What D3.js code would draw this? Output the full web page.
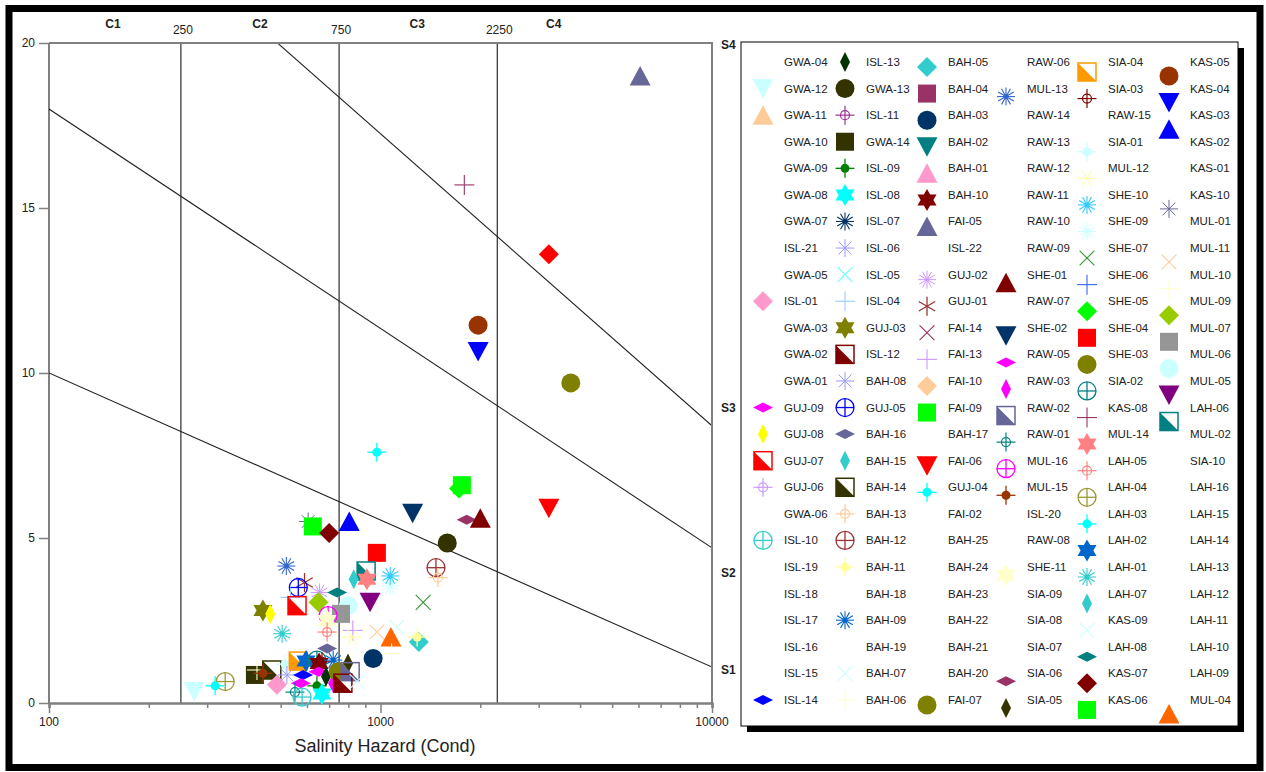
<!DOCTYPE html>
<html>
<head>
<meta charset="utf-8">
<script src="https://cdn.jsdelivr.net/npm/d3@7"></script>
<style>
  body { margin: 0; background: #fff; }
  svg { display: block; font-family: "Liberation Sans", Arial, sans-serif; }
</style>
</head>
<body>
<svg id="chart" width="1266" height="772"></svg>
<script>
// ---------------------------------------------------------------
// Legend entries, column by column (sample identifiers)
// ---------------------------------------------------------------
const legendCol1 = ["GWA-04","GWA-12","GWA-11","GWA-10","GWA-09","GWA-08","GWA-07","ISL-21","GWA-05","ISL-01","GWA-03","GWA-02","GWA-01","GUJ-09","GUJ-08","GUJ-07","GUJ-06","GWA-06","ISL-10","ISL-19","ISL-18","ISL-17","ISL-16","ISL-15","ISL-14"];
const legendCol2 = ["ISL-13","GWA-13","ISL-11","GWA-14","ISL-09","ISL-08","ISL-07","ISL-06","ISL-05","ISL-04","GUJ-03","ISL-12","BAH-08","GUJ-05","BAH-16","BAH-15","BAH-14","BAH-13","BAH-12","BAH-11","BAH-18","BAH-09","BAH-19","BAH-07","BAH-06"];
const legendCol3 = ["BAH-05","BAH-04","BAH-03","BAH-02","BAH-01","BAH-10","FAI-05","ISL-22","GUJ-02","GUJ-01","FAI-14","FAI-13","FAI-10","FAI-09","BAH-17","FAI-06","GUJ-04","FAI-02","BAH-25","BAH-24","BAH-23","BAH-22","BAH-21","BAH-20","FAI-07"];
const legendCol4 = ["RAW-06","MUL-13","RAW-14","RAW-13","RAW-12","RAW-11","RAW-10","RAW-09","SHE-01","RAW-07","SHE-02","RAW-05","RAW-03","RAW-02","RAW-01","MUL-16","MUL-15","ISL-20","RAW-08","SHE-11","SIA-09","SIA-08","SIA-07","SIA-06","SIA-05"];
const legendCol5 = ["SIA-04","SIA-03","RAW-15","SIA-01","MUL-12","SHE-10","SHE-09","SHE-07","SHE-06","SHE-05","SHE-04","SHE-03","SIA-02","KAS-08","MUL-14","LAH-05","LAH-04","LAH-03","LAH-02","LAH-01","LAH-07","KAS-09","LAH-08","KAS-07","KAS-06"];
const legendCol6 = ["KAS-05","KAS-04","KAS-03","KAS-02","KAS-01","KAS-10","MUL-01","MUL-11","MUL-10","MUL-09","MUL-07","MUL-06","MUL-05","LAH-06","MUL-02","SIA-10","LAH-16","LAH-15","LAH-14","LAH-13","LAH-12","LAH-11","LAH-10","LAH-09","MUL-04"];

// ---------------------------------------------------------------
// Samples: [id, electrical conductivity (µS/cm), SAR]
// ---------------------------------------------------------------
const samples = [
  ["FAI-05", 6070, 19.0], ["KAS-08", 1790, 15.7], ["KAS-02", 3220, 13.6],
  ["KAS-05", 1970, 11.45], ["KAS-04", 1970, 10.65], ["SHE-03", 3750, 9.7],
  ["GUJ-04", 975, 7.6], ["SHE-05", 1725, 6.5], ["FAI-09", 1760, 6.6],
  ["FAI-06", 3220, 5.9], ["SIA-06", 1820, 5.55], ["SHE-01", 2000, 5.6],
  ["SHE-02", 1250, 5.75], ["KAS-03", 805, 5.5], ["KAS-10", 605, 5.5],
  ["KAS-06", 625, 5.35], ["KAS-07", 700, 5.15], ["GWA-13", 1590, 4.85],
  ["SHE-04", 975, 4.55], ["MUL-13", 520, 4.15], ["LAH-06", 905, 4.0],
  ["LAH-07", 830, 3.75], ["MUL-14", 910, 3.75], ["SHE-09", 1070, 3.55],
  ["SHE-10", 1070, 3.85], ["BAH-12", 1470, 4.1], ["BAH-13", 1490, 3.8],
  ["SHE-07", 1345, 3.05], ["GUJ-01", 590, 3.65], ["GUJ-02", 655, 3.35],
  ["GUJ-05", 565, 3.5], ["ISL-04", 535, 3.2], ["GUJ-07", 560, 2.95],
  ["LAH-08", 740, 3.35], ["MUL-09", 650, 3.05], ["MUL-06", 800, 2.95],
  ["MUL-07", 760, 2.7], ["MUL-05", 930, 3.05], ["GUJ-03", 442, 2.8],
  ["GUJ-08", 465, 2.7], ["MUL-16", 695, 2.65], ["SHE-11", 690, 2.5],
  ["LAH-05", 690, 2.15], ["LAH-01", 505, 2.1], ["FAI-13", 825, 2.2],
  ["MUL-12", 820, 2.0], ["MUL-11", 975, 2.15], ["KAS-09", 1120, 2.3],
  ["MUL-04", 1075, 2.0], ["MUL-10", 1080, 1.5], ["BAH-05", 1305, 1.85],
  ["BAH-11", 1290, 2.0], ["BAH-03", 950, 1.35], ["GWA-14", 418, 0.85],
  ["BAH-06", 424, 1.0], ["BAH-14", 470, 1.0], ["MUL-15", 442, 0.9],
  ["ISL-01", 487, 0.55], ["LAH-04", 340, 0.65], ["SIA-01", 515, 1.18],
  ["SIA-04", 565, 1.27], ["LAH-02", 596, 1.27], ["ISL-06", 522, 0.85],
  ["ISL-14", 584, 0.85], ["GUJ-09", 575, 0.6], ["RAW-01", 552, 0.33],
  ["ISL-10", 580, 0.18], ["ISL-09", 643, 0.52], ["ISL-08", 666, 0.27],
  ["SIA-02", 643, 1.3], ["BAH-10", 653, 1.2], ["SIA-03", 666, 1.25],
  ["BAH-16", 690, 1.65], ["RAW-05", 650, 0.95], ["ISL-13", 685, 0.8],
  ["RAW-03", 720, 0.6], ["BAH-09", 720, 1.3], ["SIA-05", 798, 1.2],
  ["FAI-07", 745, 0.95], ["RAW-02", 810, 0.95], ["ISL-12", 770, 0.6],
  ["BAH-07", 850, 0.65], ["GWA-12", 274, 0.35], ["LAH-03", 317, 0.52]
];

// Salinity class boundaries (µS/cm) and labels
const classBounds = [250, 750, 2250];
const classBoundLabels = ["250", "750", "2250"];
const classNames = ["C1", "C2", "C3", "C4"];
const classNamePos = [156, 433, 1290, 3330];

// Sodium hazard boundary lines: SAR at EC = 100 and EC = 10000
const sodiumLines = [[10, 1.09], [18, 4.7], [26.1, 8.4]];
const sodiumNames = ["S1", "S2", "S3", "S4"];
const sodiumNamePos = [1.0, 3.95, 8.95, 19.95];

const yTicks = [0, 5, 10, 15, 20];
const xMajorTicks = [100, 1000, 10000];

// Marker styles per sample: [shape, colour]
const markerStyle = {
  "GWA-12": ["triDown", "#ccffff"], "GWA-11": ["triUp", "#ffcc99"], "ISL-01": ["diamond", "#ff99cc"],
  "GUJ-09": ["diamondFlat", "#ff00ff"], "GUJ-08": ["diamondTall", "#ffff00"], "GUJ-07": ["halfSquare", "#ff0000"],
  "GUJ-06": ["crosshair", "#cc99ff"], "ISL-10": ["crossCircle", "#33cccc"], "ISL-14": ["diamondFlat", "#0000ff"],

  "ISL-13": ["diamondTall", "#003300"], "GWA-13": ["circle", "#333300"], "ISL-11": ["crosshair", "#993399"],
  "GWA-14": ["square", "#333300"], "ISL-09": ["crossDot", "#008000"], "ISL-08": ["star", "#00ffff"],
  "ISL-07": ["asteriskDot", "#003366"], "ISL-06": ["asterisk", "#9999ff"], "ISL-05": ["xMark", "#66ffff"],
  "ISL-04": ["plus", "#99ccff"], "GUJ-03": ["star", "#808000"], "ISL-12": ["halfSquare", "#800000"],
  "BAH-08": ["asterisk", "#9999ff"], "GUJ-05": ["crossCircle", "#0000ff"], "BAH-16": ["diamondFlat", "#666699"],
  "BAH-15": ["diamondTall", "#33cccc"], "BAH-14": ["halfSquare", "#333300"], "BAH-13": ["crosshair", "#ffcc99"],
  "BAH-12": ["crossCircle", "#993333"], "BAH-11": ["crossDot", "#ffff99"], "BAH-09": ["asteriskDot", "#0066cc"],
  "BAH-07": ["xMark", "#ccffff"], "BAH-06": ["plus", "#ffffcc"],

  "BAH-05": ["diamond", "#33cccc"], "BAH-04": ["square", "#993366"], "BAH-03": ["circle", "#003366"],
  "BAH-02": ["triDown", "#008080"], "BAH-01": ["triUp", "#ff99cc"], "BAH-10": ["star", "#800000"],
  "FAI-05": ["triUp", "#666699"], "GUJ-02": ["asteriskDense", "#cc99ff"], "GUJ-01": ["asterisk6v", "#993333"],
  "FAI-14": ["xMark", "#993366"], "FAI-13": ["plus", "#cc99ff"], "FAI-10": ["diamond", "#ffcc99"],
  "FAI-09": ["square", "#00ff00"], "FAI-06": ["triDown", "#ff0000"], "GUJ-04": ["crossDot", "#00ffff"],
  "FAI-07": ["circle", "#808000"],

  "MUL-13": ["asteriskDot", "#3366cc"], "SHE-01": ["triUp", "#800000"], "SHE-02": ["triDown", "#003366"],
  "RAW-05": ["diamondFlat", "#ff00ff"], "RAW-03": ["diamondTall", "#ff00ff"], "RAW-02": ["halfSquare", "#666699"],
  "RAW-01": ["crosshair", "#008080"], "MUL-16": ["crossCircle", "#ff00ff"], "MUL-15": ["crossDot", "#993300"],
  "SHE-11": ["star", "#ffffcc"], "SIA-06": ["diamondFlat", "#993366"], "SIA-05": ["diamondTall", "#333300"],

  "SIA-04": ["halfSquare", "#ff9900"], "SIA-03": ["crosshair", "#800000"], "SIA-01": ["crossDot", "#ccffff"],
  "MUL-12": ["asterisk6h", "#ffff99"], "SHE-10": ["asteriskDot", "#33ccff"], "SHE-09": ["asteriskDense", "#ccffff"],
  "SHE-07": ["xMark", "#339933"], "SHE-06": ["plus", "#3366ff"], "SHE-05": ["diamond", "#00ff00"],
  "SHE-04": ["square", "#ff0000"], "SHE-03": ["circle", "#808000"], "SIA-02": ["crossCircle", "#008080"],
  "KAS-08": ["plus", "#993366"], "MUL-14": ["star", "#ff8080"], "LAH-05": ["crosshair", "#ff8080"],
  "LAH-04": ["crossCircle", "#999933"], "LAH-03": ["crossDot", "#00ffff"], "LAH-02": ["star", "#0066cc"],
  "LAH-01": ["asteriskDot", "#33cccc"], "LAH-07": ["diamondTall", "#33cccc"], "KAS-09": ["xMark", "#ccffff"],
  "LAH-08": ["diamondFlat", "#008080"], "KAS-07": ["diamond", "#800000"], "KAS-06": ["square", "#00ff00"],

  "KAS-05": ["circle", "#993300"], "KAS-04": ["triDown", "#0000ff"], "KAS-03": ["triUp", "#0000ff"],
  "KAS-02": ["diamond", "#ff0000"], "KAS-10": ["asterisk", "#666699"], "MUL-11": ["xMark", "#ffcc99"],
  "MUL-10": ["plus", "#ffffcc"], "MUL-09": ["diamond", "#99cc00"], "MUL-07": ["square", "#969696"],
  "MUL-06": ["circle", "#ccffff"], "MUL-05": ["triDown", "#800080"], "LAH-06": ["halfSquare", "#008080"],
  "MUL-04": ["triUp", "#ff6600"]
};
// samples whose symbol is not shown in the legend box
const legendWithoutSymbol = ["KAS-02"];

// ---------------------------------------------------------------
// Layout
// ---------------------------------------------------------------
const svg = d3.select("#chart");
const plot = { left: 49, right: 712, top: 43, bottom: 703 };

const x = d3.scaleLog().domain([100, 10000]).range([plot.left, plot.right]);
const y = d3.scaleLinear().domain([0, 20]).range([plot.bottom, plot.top]);

// outer frame
svg.append("rect").attr("x", 0).attr("y", 0).attr("width", 1266).attr("height", 772).attr("fill", "#fff");
svg.append("rect").attr("x", 9).attr("y", 8.5).attr("width", 1251).attr("height", 759)
  .attr("fill", "none").attr("stroke", "#000").attr("stroke-width", 7);

// ---------------------------------------------------------------
// Marker drawing
// ---------------------------------------------------------------
function hexagram(R) {
  const r = R / Math.sqrt(3);
  const pts = [];
  for (let i = 0; i < 12; i++) {
    const a = -Math.PI / 2 + i * Math.PI / 6;
    const rr = i % 2 === 0 ? R : r;
    pts.push([rr * Math.cos(a), rr * Math.sin(a)]);
  }
  return "M" + pts.map(p => p[0].toFixed(2) + "," + p[1].toFixed(2)).join("L") + "Z";
}

function spokes(g, color, angles, r, w) {
  angles.forEach(a => {
    const rad = a * Math.PI / 180;
    g.append("line")
      .attr("x1", -r * Math.cos(rad)).attr("y1", -r * Math.sin(rad))
      .attr("x2", r * Math.cos(rad)).attr("y2", r * Math.sin(rad))
      .attr("stroke", color).attr("stroke-width", w);
  });
}

function drawMarker(g, shape, color) {
  switch (shape) {
    case "circle":
      g.append("circle").attr("r", 9.5).attr("fill", color); break;
    case "square":
      g.append("rect").attr("x", -9).attr("y", -9).attr("width", 18).attr("height", 18).attr("fill", color); break;
    case "triUp":
      g.append("path").attr("d", "M0,-10L10.5,9.5L-10.5,9.5Z").attr("fill", color); break;
    case "triDown":
      g.append("path").attr("d", "M-10.5,-9.5L10.5,-9.5L0,10Z").attr("fill", color); break;
    case "diamond":
      g.append("path").attr("d", "M0,-10L10,0L0,10L-10,0Z").attr("fill", color); break;
    case "diamondFlat":
      g.append("path").attr("d", "M0,-5L10,0L0,5L-10,0Z").attr("fill", color); break;
    case "diamondTall":
      g.append("path").attr("d", "M0,-10L5,0L0,10L-5,0Z").attr("fill", color); break;
    case "star":
      g.append("path").attr("d", hexagram(11)).attr("fill", color); break;
    case "halfSquare":
      g.append("rect").attr("x", -9).attr("y", -9).attr("width", 18).attr("height", 18)
        .attr("fill", "none").attr("stroke", color).attr("stroke-width", 1.5);
      g.append("path").attr("d", "M-9,-9L-9,9L9,9Z").attr("fill", color); break;
    case "crossCircle":
      g.append("circle").attr("r", 9).attr("fill", "none").attr("stroke", color).attr("stroke-width", 1.3);
      spokes(g, color, [0, 90], 9, 1.3); break;
    case "crosshair":
      g.append("circle").attr("r", 4.5).attr("fill", "none").attr("stroke", color).attr("stroke-width", 1.2);
      spokes(g, color, [0, 90], 9.5, 1.2); break;
    case "crossDot":
      g.append("circle").attr("r", 4.5).attr("fill", color);
      spokes(g, color, [0, 90], 9.5, 1.3); break;
    case "asteriskDot":
      spokes(g, color, [0, 30, 60, 90, 120, 150], 9, 1.1);
      g.append("circle").attr("r", 2.5).attr("fill", color); break;
    case "asteriskDense":
      spokes(g, color, [0, 30, 60, 90, 120, 150], 9, 1.0); break;
    case "asterisk":
      spokes(g, color, [0, 45, 90, 135], 9, 1.0); break;
    case "asterisk6v":
      spokes(g, color, [90, 30, 150], 9.5, 1.3); break;
    case "asterisk6h":
      spokes(g, color, [0, 60, 120], 9.5, 1.0); break;
    case "xMark":
      spokes(g, color, [45, 135], 10.5, 1.1); break;
    case "plus":
      spokes(g, color, [0, 90], 10, 1.1); break;
  }
}

// ---------------------------------------------------------------
// Plot frame, class boundaries and sodium lines
// ---------------------------------------------------------------
const defs = svg.append("defs");
defs.append("clipPath").attr("id", "plotClip").append("rect")
  .attr("x", plot.left).attr("y", plot.top)
  .attr("width", plot.right - plot.left).attr("height", plot.bottom - plot.top);

const grid = svg.append("g");
classBounds.forEach(v => {
  grid.append("line").attr("x1", x(v)).attr("x2", x(v)).attr("y1", y(20)).attr("y2", y(0))
    .attr("stroke", "#000").attr("stroke-width", 1);
});

const lineGen = d3.line().x(d => x(d[0])).y(d => y(d[1]));
const lineLayer = svg.append("g").attr("clip-path", "url(#plotClip)");
sodiumLines.forEach(s => {
  lineLayer.append("path").attr("d", lineGen([[100, s[0]], [10000, s[1]]]))
    .attr("fill", "none").attr("stroke", "#222").attr("stroke-width", 1.1);
});

// left edge of the plot
svg.append("line").attr("x1", plot.left).attr("x2", plot.left).attr("y1", plot.top).attr("y2", plot.bottom)
  .attr("stroke", "#000").attr("stroke-width", 1);
// top and right border
svg.append("path")
  .attr("d", `M${plot.left},${plot.top}H${plot.right}V${plot.bottom}`)
  .attr("fill", "none").attr("stroke", "#808080").attr("stroke-width", 2);

// ---------------------------------------------------------------
// Axes
// ---------------------------------------------------------------
const xAxis = d3.axisBottom(x).tickValues(x.ticks()).tickSize(5).tickFormat("");
const xAxisG = svg.append("g").attr("transform", `translate(0,${plot.bottom})`).call(xAxis);
xAxisG.select(".domain").attr("stroke", "#808080").attr("stroke-width", 2.5);
xAxisG.selectAll(".tick line").attr("stroke", "#808080").attr("stroke-width", 1.5)
  .attr("y2", d => xMajorTicks.includes(d) ? 10 : 5);

svg.append("g").selectAll("text").data(xMajorTicks).join("text")
  .attr("x", d => x(d)).attr("y", 726)
  .attr("text-anchor", "middle").attr("font-size", 12).attr("fill", "#222")
  .text(d => d);

const yAxis = d3.axisLeft(y).tickValues(yTicks).tickSize(10).tickPadding(4);
const yAxisG = svg.append("g").attr("transform", `translate(${plot.left},0)`).call(yAxis);
yAxisG.select(".domain").remove();
yAxisG.selectAll(".tick line").attr("stroke", "#808080").attr("stroke-width", 1.5);
yAxisG.selectAll(".tick text").attr("font-size", 12).attr("fill", "#222")
  .attr("font-family", "Liberation Sans, Arial, sans-serif");

svg.append("text").attr("x", 385).attr("y", 752).attr("text-anchor", "middle")
  .attr("font-size", 18).attr("fill", "#222").text("Salinity Hazard (Cond)");

// class labels along the top
svg.append("g").selectAll("text").data(classBounds).join("text")
  .attr("x", d => x(d) + 2).attr("y", 34).attr("text-anchor", "middle")
  .attr("font-size", 12).attr("fill", "#222")
  .text((d, i) => classBoundLabels[i]);
svg.append("g").selectAll("text").data(classNames).join("text")
  .attr("x", (d, i) => x(classNamePos[i])).attr("y", 28).attr("text-anchor", "middle")
  .attr("font-size", 12).attr("font-weight", "bold").attr("fill", "#222")
  .text(d => d);

// sodium class labels on the right
svg.append("g").selectAll("text").data(sodiumNames).join("text")
  .attr("x", 721).attr("y", (d, i) => y(sodiumNamePos[i]) + 4)
  .attr("font-size", 12).attr("font-weight", "bold").attr("fill", "#222")
  .text(d => d);

// ---------------------------------------------------------------
// Sample markers
// ---------------------------------------------------------------
const markerLayer = svg.append("g");
samples.forEach(([id, ec, sar]) => {
  const st = markerStyle[id];
  if (!st) return;
  const g = markerLayer.append("g").attr("transform", `translate(${x(ec)},${y(sar)})`);
  drawMarker(g, st[0], st[1]);
});

// ---------------------------------------------------------------
// Legend
// ---------------------------------------------------------------
const legend = { left: 741, top: 42, width: 497, height: 684 };
svg.append("rect").attr("x", legend.left + 6).attr("y", legend.top + 6)
  .attr("width", legend.width).attr("height", legend.height).attr("fill", "#000");
svg.append("rect").attr("x", legend.left).attr("y", legend.top)
  .attr("width", legend.width).attr("height", legend.height)
  .attr("fill", "#fff").attr("stroke", "#000").attr("stroke-width", 1);

const legendCols = [legendCol1, legendCol2, legendCol3, legendCol4, legendCol5, legendCol6];
const colSymbolX = [763, 845, 927, 1006, 1087, 1169];
const colSymbolShift = [0, 0, 5, 8, 10, 14];
const rowY0 = 62, rowStep = 26.58;

legendCols.forEach((col, ci) => {
  col.forEach((id, ri) => {
    const cy = rowY0 + ri * rowStep;
    svg.append("text").attr("x", colSymbolX[ci] + 21).attr("y", cy + 4)
      .attr("font-size", 11.5).attr("fill", "#222").text(id);
    const st = markerStyle[id];
    if (st && !legendWithoutSymbol.includes(id)) {
      const g = svg.append("g").attr("transform", `translate(${colSymbolX[ci]},${cy + colSymbolShift[ci]})`);
      drawMarker(g, st[0], st[1]);
    }
  });
});
</script>
</body>
</html>
